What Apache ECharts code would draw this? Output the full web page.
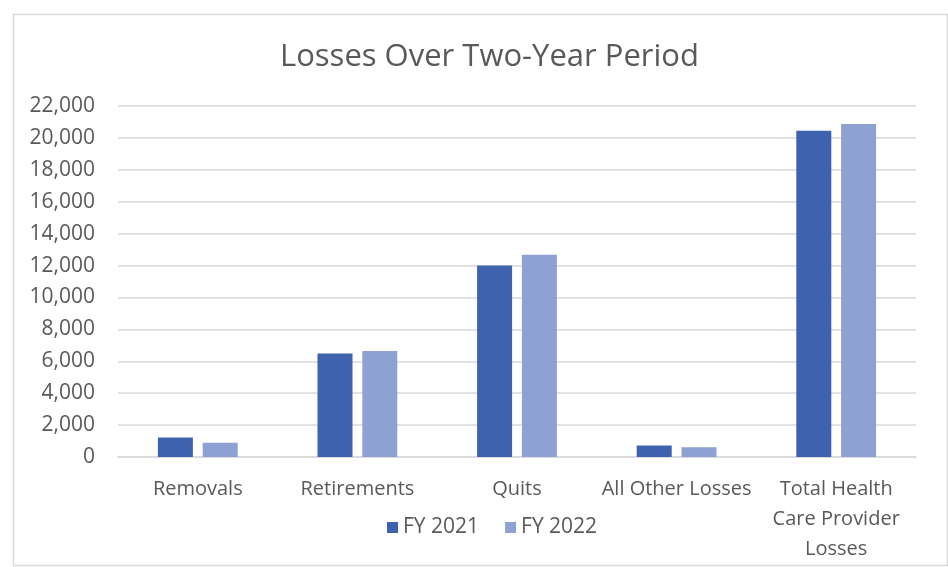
<!DOCTYPE html>
<html>
<head>
<meta charset="utf-8">
<script src="https://cdn.jsdelivr.net/npm/echarts@6/dist/echarts.min.js"></script>
<style>
  html, body { margin: 0; padding: 0; background: #ffffff; }
  #chart { width: 948px; height: 567px; }
</style>
</head>
<body>
<div id="chart"></div>
<script>
// Workforce losses by category, two fiscal years
const categories = ['Removals', 'Retirements', 'Quits', 'All Other Losses', 'Total Health\nCare Provider\nLosses'];
const fy2021 = [1220, 6490, 12010, 720, 20450];
const fy2022 = [900, 6650, 12670, 610, 20870];
const seriesNames = ['FY 2021', 'FY 2022'];
const yTicks = { min: 0, max: 22000, interval: 2000 };

const textColor = '#595959';
const labelFont = '"Open Sans", "Noto Sans", sans-serif';

const chart = echarts.init(document.getElementById('chart'), null, { renderer: 'canvas' });
chart.setOption({
  backgroundColor: '#ffffff',
  animation: false,
  title: {
    text: 'Losses Over Two-Year Period',
    left: 275,
    top: 37,
    textStyle: { color: textColor, fontSize: 31, fontWeight: 'normal', fontFamily: labelFont }
  },
  graphic: [{
    type: 'rect',
    left: 11, top: 12,
    shape: { width: 934, height: 551 },
    style: { fill: 'none', stroke: '#d9d9d9', lineWidth: 1.5 },
    silent: true
  }],
  legend: {
    data: seriesNames,
    left: 382,
    top: 512,
    itemWidth: 11,
    itemHeight: 11,
    itemGap: 26,
    icon: 'rect',
    textStyle: { color: textColor, fontSize: 21, fontFamily: labelFont }
  },
  grid: { left: 118, right: 32, top: 106, bottom: 110, containLabel: false },
  xAxis: {
    type: 'category',
    data: categories,
    axisLine: { show: true, lineStyle: { color: '#d9d9d9', width: 1.5 } },
    axisTick: { show: false },
    axisLabel: {
      color: textColor, fontSize: 20, fontFamily: labelFont,
      margin: 17, lineHeight: 30, interval: 0
    }
  },
  yAxis: {
    type: 'value',
    min: yTicks.min,
    max: yTicks.max,
    interval: yTicks.interval,
    axisLine: { show: false },
    axisTick: { show: false },
    splitLine: { lineStyle: { color: '#d9d9d9', width: 1.5 } },
    axisLabel: {
      color: textColor, fontSize: 21, fontFamily: labelFont, margin: 23,
      formatter: v => v.toLocaleString('en-US')
    }
  },
  series: [
    {
      name: seriesNames[0], type: 'bar', data: fy2021,
      barWidth: 35, barGap: '28%',
      itemStyle: { color: '#3F62AE' }
    },
    {
      name: seriesNames[1], type: 'bar', data: fy2022,
      barWidth: 35,
      itemStyle: { color: '#8EA1D3' }
    }
  ]
});
</script>
</body>
</html>
